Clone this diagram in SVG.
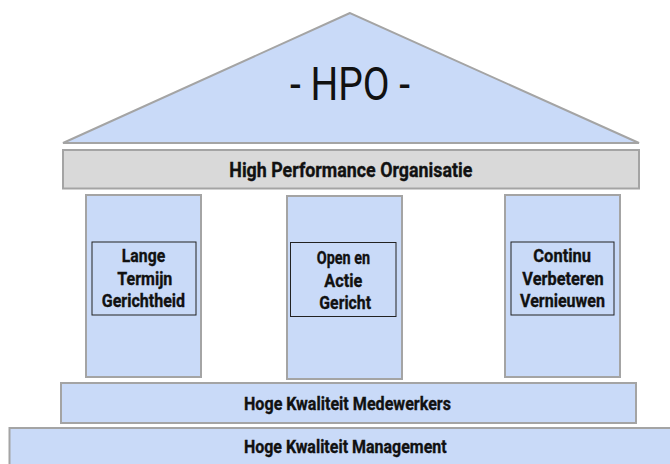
<svg xmlns="http://www.w3.org/2000/svg" width="670" height="464" viewBox="0 0 670 464">
  <style>
    .blue { fill: #c9daf8; stroke: #a4a4a4; stroke-width: 2; }
    .grey { fill: #d9d9d9; stroke: #a4a4a4; stroke-width: 2; }
    .inner { fill: none; stroke: #222222; stroke-width: 1; }
    .lbl { font-family: Roboto, "Liberation Sans", sans-serif; font-weight: bold; font-size: 18.5px; fill: #111111; stroke: #111111; stroke-width: 0.35; text-anchor: middle; }
    .title { font-family: Roboto, "Liberation Sans", sans-serif; font-weight: normal; font-size: 46px; fill: #111111; text-anchor: middle; }
  </style>
  <rect width="670" height="464" fill="#ffffff"/>

  <!-- roof -->
  <g id="roof">
    <polygon class="blue" points="350,13 63,143 639,143"/>
    <text class="title" x="350" y="100" textLength="120" lengthAdjust="spacingAndGlyphs">- HPO -</text>
  </g>

  <!-- architrave -->
  <g id="hpo-bar">
    <rect class="grey" x="63" y="150" width="576" height="38.5"/>
    <text class="lbl" x="350.8" y="177.3" style="font-size:20.5px" textLength="243" lengthAdjust="spacingAndGlyphs">High Performance Organisatie</text>
  </g>

  <!-- pillars -->
  <g id="pillar-lange-termijn">
    <rect class="blue" x="86" y="195" width="115" height="182"/>
    <rect class="inner" x="92" y="242" width="104" height="73"/>
    <text class="lbl" x="143.5" y="262.3" textLength="43.3" lengthAdjust="spacingAndGlyphs">Lange</text>
    <text class="lbl" x="144.8" y="284.5" textLength="55" lengthAdjust="spacingAndGlyphs">Termijn</text>
    <text class="lbl" x="143.4" y="306.7" textLength="83.3" lengthAdjust="spacingAndGlyphs">Gerichtheid</text>
  </g>

  <g id="pillar-open-actie">
    <rect class="blue" x="287" y="196" width="115" height="183"/>
    <rect class="inner" x="290.5" y="242.5" width="105.5" height="74"/>
    <text class="lbl" x="343.4" y="264.3" textLength="53.3" lengthAdjust="spacingAndGlyphs">Open en</text>
    <text class="lbl" x="343.3" y="286.7" textLength="38" lengthAdjust="spacingAndGlyphs">Actie</text>
    <text class="lbl" x="345.2" y="309" textLength="51.7" lengthAdjust="spacingAndGlyphs">Gericht</text>
  </g>

  <g id="pillar-continu">
    <rect class="blue" x="505" y="195" width="115" height="182"/>
    <rect class="inner" x="511" y="242" width="103" height="73"/>
    <text class="lbl" x="562.2" y="262.3" textLength="57.7" lengthAdjust="spacingAndGlyphs">Continu</text>
    <text class="lbl" x="563" y="284.5" textLength="81.3" lengthAdjust="spacingAndGlyphs">Verbeteren</text>
    <text class="lbl" x="562.5" y="306.7" textLength="85" lengthAdjust="spacingAndGlyphs">Vernieuwen</text>
  </g>

  <!-- foundation steps -->
  <g id="medewerkers">
    <rect class="blue" x="61" y="383" width="575" height="40"/>
    <text class="lbl" x="347.5" y="410" textLength="207" lengthAdjust="spacingAndGlyphs">Hoge Kwaliteit Medewerkers</text>
  </g>

  <g id="management">
    <rect class="blue" x="9.5" y="428" width="680" height="50"/>
    <text class="lbl" x="345.3" y="453.3" textLength="202.7" lengthAdjust="spacingAndGlyphs">Hoge Kwaliteit Management</text>
  </g>

  <g id="connectors"/>
</svg>
